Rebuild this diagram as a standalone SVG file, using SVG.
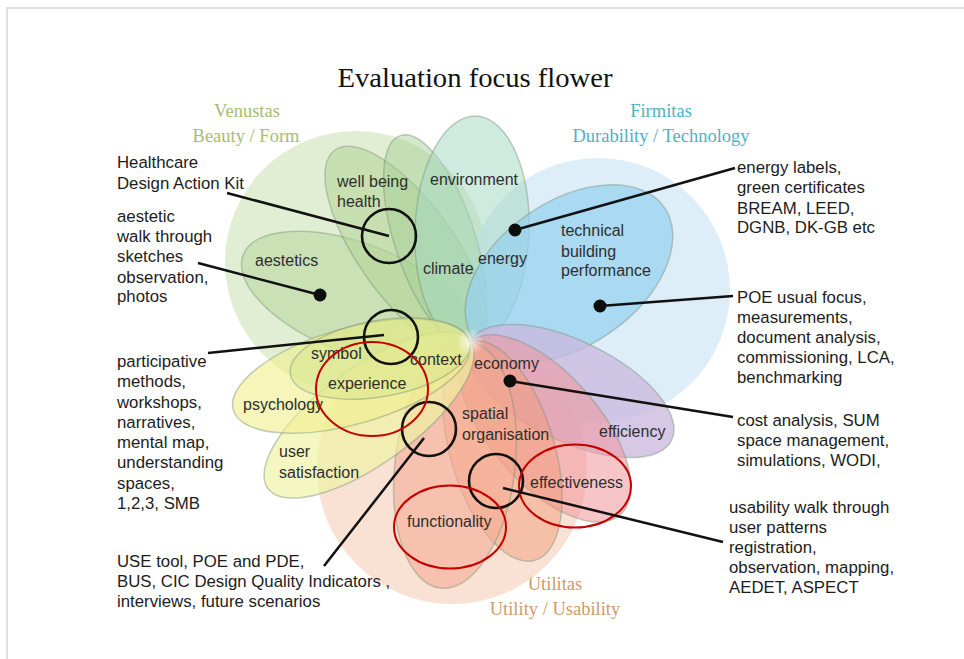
<svg xmlns="http://www.w3.org/2000/svg" width="964" height="659" viewBox="0 0 964 659">
<defs>
<style>
.t{font-family:"Liberation Sans",Arial,sans-serif;font-size:16.8px;fill:#1c1c1c}
.p{font-family:"Liberation Sans",Arial,sans-serif;font-size:16px;fill:#2e2e2e}
.s{font-family:"Liberation Serif","Times New Roman",serif;font-size:18.5px}
.pet{stroke:#7d927d;stroke-opacity:0.45;stroke-width:1.5}
.ring{fill:none;stroke:#111;stroke-width:2.6}
.red{fill:none;stroke:#c40000;stroke-width:2}
.ln{stroke:#111;stroke-width:2.5;fill:none}
.dot{fill:#0d0d0d}
</style>
<radialGradient id="glow" cx="0.5" cy="0.5" r="0.5">
<stop offset="0" stop-color="#ffffff" stop-opacity="0.8"/>
<stop offset="1" stop-color="#ffffff" stop-opacity="0"/>
</radialGradient>
</defs>
<rect width="964" height="659" fill="#ffffff"/>
<path d="M7,659 V8 H964" fill="none" stroke="#dedede" stroke-width="2"/>

<text x="475" y="87" text-anchor="middle" textLength="275" lengthAdjust="spacingAndGlyphs" style="font-family:'Liberation Serif','Times New Roman',serif;font-size:26.5px;fill:#111">Evaluation focus flower</text>

<g id="headings">
<text class="s" x="247" y="117" text-anchor="middle" fill="#a7bd73">Venustas</text>
<text class="s" x="246" y="142" text-anchor="middle" fill="#a7bd73">Beauty / Form</text>
<text class="s" x="661" y="117" text-anchor="middle" fill="#4fb2c3">Firmitas</text>
<text class="s" x="661" y="142" text-anchor="middle" fill="#4fb2c3">Durability / Technology</text>
<text class="s" x="555" y="590" text-anchor="middle" fill="#cf9a6b">Utilitas</text>
<text class="s" x="555" y="615" text-anchor="middle" fill="#cf9a6b">Utility / Usability</text>
</g>

<g id="flower">
<circle cx="356" cy="262" r="131" fill="#e2eed3"/>
<circle cx="598" cy="290" r="132" fill="#d9ecf7" fill-opacity="0.9"/>
<circle cx="452" cy="469" r="135" fill="#f8dccd" fill-opacity="0.85"/>

<ellipse class="pet" cx="356.5" cy="298.5" rx="121.5" ry="55" transform="rotate(21 356.5 298.5)" fill="#b6d69c" fill-opacity="0.55"/>
<ellipse class="pet" cx="406.5" cy="250" rx="123" ry="48" transform="rotate(54.4 406.5 250)" fill="#b2d596" fill-opacity="0.55"/>
<ellipse class="pet" cx="435" cy="240" rx="110" ry="40" transform="rotate(71.6 435 240)" fill="#9fcd93" fill-opacity="0.45"/>
<ellipse class="pet" cx="472" cy="231" rx="57" ry="115" transform="rotate(2 472 231)" fill="#a7d9c2" fill-opacity="0.55"/>
<ellipse class="pet" cx="569" cy="273.5" rx="116" ry="72" transform="rotate(-34.7 569 273.5)" fill="#94d1f0" fill-opacity="0.7"/>
<ellipse class="pet" cx="571" cy="391" rx="112" ry="50" transform="rotate(26 571 391)" fill="#c9b7de" fill-opacity="0.75"/>
<ellipse class="pet" cx="545" cy="428.5" rx="114.5" ry="55" transform="rotate(49 545 428.5)" fill="#f0959a" fill-opacity="0.55"/>
<ellipse class="pet" cx="502.5" cy="451" rx="114" ry="52" transform="rotate(73.4 502.5 451)" fill="#f29a74" fill-opacity="0.45"/>
<ellipse class="pet" cx="455" cy="465" rx="124" ry="60" transform="rotate(96.8 455 465)" fill="#f4aa90" fill-opacity="0.55"/>
<ellipse class="pet" cx="369" cy="415" rx="125" ry="48" transform="rotate(-36 369 415)" fill="#eef2a2" fill-opacity="0.65"/>
<ellipse class="pet" cx="351.5" cy="376" rx="123" ry="48" transform="rotate(-16 351.5 376)" fill="#f0ee8c" fill-opacity="0.6"/>
<ellipse class="pet" cx="380" cy="358.5" rx="91" ry="38" transform="rotate(-10 380 358.5)" fill="#d6e58e" fill-opacity="0.5"/>
<circle cx="470" cy="342" r="14" fill="url(#glow)"/>
</g>

<g id="petal-labels">
<text class="p" x="337" y="187">well being</text>
<text class="p" x="337" y="207">health</text>
<text class="p" x="430" y="185">environment</text>
<text class="p" x="255" y="266">aestetics</text>
<text class="p" x="423" y="274">climate</text>
<text class="p" x="478" y="264">energy</text>
<text class="p" x="561" y="236">technical</text>
<text class="p" x="561" y="257">building</text>
<text class="p" x="561" y="276">performance</text>
<text class="p" x="311" y="359">symbol</text>
<text class="p" x="410" y="365">context</text>
<text class="p" x="474" y="369">economy</text>
<text class="p" x="328" y="389">experience</text>
<text class="p" x="243" y="410">psychology</text>
<text class="p" x="462" y="419">spatial</text>
<text class="p" x="462" y="440">organisation</text>
<text class="p" x="599" y="437">efficiency</text>
<text class="p" x="279" y="457">user</text>
<text class="p" x="279" y="478">satisfaction</text>
<text class="p" x="530" y="488">effectiveness</text>
<text class="p" x="407" y="527">functionality</text>
</g>

<g id="markers">
<circle class="ring" cx="389" cy="236" r="27"/>
<circle class="ring" cx="391" cy="337" r="27"/>
<circle class="ring" cx="429" cy="429" r="27"/>
<circle class="ring" cx="496" cy="481" r="27"/>
<ellipse class="red" cx="372" cy="389" rx="56" ry="47"/>
<ellipse class="red" cx="575" cy="486" rx="56" ry="41.5"/>
<ellipse class="red" cx="450" cy="527" rx="56" ry="41.5"/>
<circle class="dot" cx="320" cy="295" r="6.5"/>
<circle class="dot" cx="515" cy="230" r="6.5"/>
<circle class="dot" cx="600" cy="306" r="6.5"/>
<circle class="dot" cx="510" cy="381" r="6.5"/>
</g>

<g id="connectors">
<line class="ln" x1="227" y1="193" x2="389" y2="236"/>
<line class="ln" x1="198" y1="263" x2="320" y2="295"/>
<line class="ln" x1="208" y1="353" x2="384" y2="335"/>
<line class="ln" x1="324" y1="566" x2="424" y2="438"/>
<line class="ln" x1="735" y1="168" x2="515" y2="230"/>
<line class="ln" x1="733" y1="296" x2="600" y2="306"/>
<line class="ln" x1="733" y1="417" x2="510" y2="381"/>
<line class="ln" x1="723" y1="542" x2="503" y2="488"/>
</g>

<g id="left-notes">
<text class="t" x="117" y="168">Healthcare</text>
<text class="t" x="117" y="189">Design Action Kit</text>
<text class="t" x="117" y="222">aestetic</text>
<text class="t" x="117" y="242">walk through</text>
<text class="t" x="117" y="262">sketches</text>
<text class="t" x="117" y="283">observation,</text>
<text class="t" x="117" y="302">photos</text>
<text class="t" x="117" y="367">participative</text>
<text class="t" x="117" y="387">methods,</text>
<text class="t" x="117" y="408">workshops,</text>
<text class="t" x="117" y="428">narratives,</text>
<text class="t" x="117" y="448">mental map,</text>
<text class="t" x="117" y="468">understanding</text>
<text class="t" x="117" y="489">spaces,</text>
<text class="t" x="117" y="509">1,2,3, SMB</text>
<text class="t" x="117" y="567">USE tool, POE and PDE,</text>
<text class="t" x="117" y="587">BUS, CIC Design Quality Indicators ,</text>
<text class="t" x="117" y="607">interviews, future scenarios</text>
</g>

<g id="right-notes">
<text class="t" x="737" y="173">energy labels,</text>
<text class="t" x="737" y="193">green certificates</text>
<text class="t" x="737" y="214">BREAM, LEED,</text>
<text class="t" x="737" y="233">DGNB, DK-GB etc</text>
<text class="t" x="737" y="303">POE usual focus,</text>
<text class="t" x="737" y="323">measurements,</text>
<text class="t" x="737" y="343">document analysis,</text>
<text class="t" x="737" y="363">commissioning, LCA,</text>
<text class="t" x="737" y="383">benchmarking</text>
<text class="t" x="737" y="426">cost analysis, SUM</text>
<text class="t" x="737" y="446">space management,</text>
<text class="t" x="737" y="466">simulations, WODI,</text>
<text class="t" x="729" y="513">usability walk through</text>
<text class="t" x="729" y="533">user patterns</text>
<text class="t" x="729" y="553">registration,</text>
<text class="t" x="729" y="573">observation, mapping,</text>
<text class="t" x="729" y="593">AEDET, ASPECT</text>
</g>
</svg>
